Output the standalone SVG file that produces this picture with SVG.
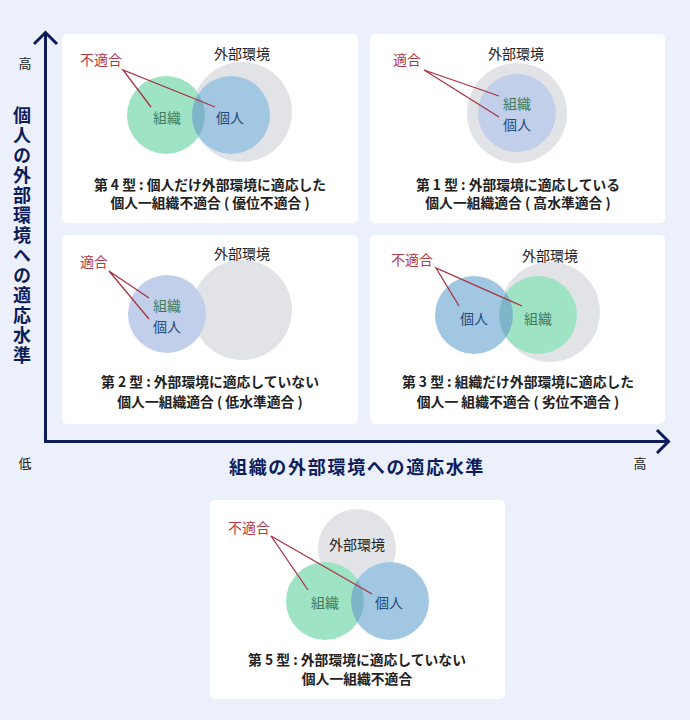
<svg xmlns="http://www.w3.org/2000/svg" width="690" height="720" viewBox="0 0 690 720">
<defs>
<style>
.bg{fill:#ebf0fa}
.panel{fill:#ffffff}
.env{fill:#e2e3e6}
.org{fill:#9fe3c5}
.ind{fill:#a2c7e2}
.both{fill:#c1cfea}
.lap{fill:#7db6c9}
.t{font-family:"Noto Sans CJK JP","Noto Sans",sans-serif;text-anchor:middle;dominant-baseline:central}
.lbl{font-size:14px;fill:#222}
.red{font-size:14px;fill:#b23a48}
.orgt{font-size:14px;fill:#3f7a5c}
.indt{font-size:14px;fill:#1f4c7c}
.cap{font-size:13.8px;font-weight:bold;fill:#222}
.ln{stroke:#a8343f;stroke-width:1.3;fill:none}
.axis{stroke:#0e1d5a;stroke-width:3;fill:none}
.title{font-size:18px;font-weight:bold;fill:#0e1d5a}
.ax{font-size:13px;fill:#222}
</style>
<clipPath id="c1"><circle cx="166" cy="115" r="39"/></clipPath>
<clipPath id="c4"><circle cx="538" cy="315" r="39"/></clipPath>
<clipPath id="c5"><circle cx="325" cy="601" r="39"/></clipPath>
</defs>
<rect class="bg" x="0" y="0" width="690" height="720"/>

<g id="axes">
<path class="axis" d="M45.5 33 V441.5 H667"/>
<path class="axis" d="M34 44 L45.5 32.5 L57 44"/>
<path class="axis" d="M657 430 L668.5 441.5 L657 453"/>
<text class="t ax" x="25" y="62">高</text>
<text class="t ax" x="25" y="462">低</text>
<text class="t ax" x="640" y="462">高</text>
<text class="t title" x="22" y="106" style="writing-mode:vertical-rl;text-anchor:start;letter-spacing:2px">個人の外部環境への適応水準</text>
<text class="t title" x="357" y="466" style="letter-spacing:1.7px">組織の外部環境への適応水準</text>
</g>

<g id="type4">
<rect class="panel" x="62" y="34" width="296" height="189" rx="5"/>
<circle class="env" cx="242" cy="112" r="50"/>
<circle class="org" cx="166" cy="115" r="39"/>
<circle class="ind" cx="231" cy="115" r="39"/>
<circle class="lap" cx="231" cy="115" r="39" clip-path="url(#c1)"/>
<text class="t lbl" x="242" y="53">外部環境</text>
<text class="t red" x="101" y="59">不適合</text>
<text class="t orgt" x="167" y="117">組織</text>
<text class="t indt" x="230" y="117">個人</text>
<text class="t cap" x="210" y="184">第 4 型 : 個人だけ外部環境に適応した</text>
<text class="t cap" x="210" y="202">個人一組織不適合 ( 優位不適合 )</text>
</g>

<g id="type1">
<rect class="panel" x="370" y="34" width="295" height="189" rx="5"/>
<circle class="env" cx="517" cy="113" r="50"/>
<circle class="both" cx="517" cy="113" r="39"/>
<text class="t lbl" x="516" y="53">外部環境</text>
<text class="t red" x="407" y="59">適合</text>
<text class="t orgt" x="517" y="103">組織</text>
<text class="t indt" x="517" y="124">個人</text>
<text class="t cap" x="518" y="184">第 1 型 : 外部環境に適応している</text>
<text class="t cap" x="518" y="202">個人一組織適合 ( 高水準適合 )</text>
</g>

<g id="type2">
<rect class="panel" x="62" y="235" width="296" height="189" rx="5"/>
<circle class="env" cx="242" cy="310" r="50"/>
<circle class="both" cx="167" cy="314" r="39"/>
<text class="t lbl" x="242" y="253">外部環境</text>
<text class="t red" x="94" y="261">適合</text>
<text class="t orgt" x="167" y="305">組織</text>
<text class="t indt" x="167" y="326">個人</text>
<text class="t cap" x="210" y="381">第 2 型 : 外部環境に適応していない</text>
<text class="t cap" x="210" y="401">個人一組織適合 ( 低水準適合 )</text>
</g>

<g id="type3">
<rect class="panel" x="370" y="235" width="295" height="189" rx="5"/>
<circle class="env" cx="550" cy="312" r="50"/>
<circle class="ind" cx="474" cy="315" r="39"/>
<circle class="org" cx="538" cy="315" r="39"/>
<circle class="lap" cx="474" cy="315" r="39" clip-path="url(#c4)"/>
<text class="t lbl" x="550" y="255">外部環境</text>
<text class="t red" x="412" y="259">不適合</text>
<text class="t indt" x="474" y="318">個人</text>
<text class="t orgt" x="538" y="318">組織</text>
<text class="t cap" x="518" y="381">第 3 型 : 組織だけ外部環境に適応した</text>
<text class="t cap" x="518" y="401">個人一 組織不適合 ( 劣位不適合 )</text>
</g>

<g id="type5">
<rect class="panel" x="210" y="500" width="295" height="199" rx="5"/>
<circle class="env" cx="357" cy="548" r="39"/>
<circle class="org" cx="325" cy="601" r="39"/>
<circle class="ind" cx="390" cy="601" r="39"/>
<circle class="lap" cx="390" cy="601" r="39" clip-path="url(#c5)"/>
<text class="t lbl" x="357" y="544">外部環境</text>
<text class="t red" x="249" y="527">不適合</text>
<text class="t orgt" x="325" y="602">組織</text>
<text class="t indt" x="389" y="602">個人</text>
<text class="t cap" x="357" y="659">第 5 型 : 外部環境に適応していない</text>
<text class="t cap" x="357" y="678">個人一組織不適合</text>
</g>

<g id="connectors">
<path class="ln" d="M151 107 L123 70 L215 107"/>
<path class="ln" d="M499 96 L424 70 L499 117"/>
<path class="ln" d="M149 298 L109 271 L149 319"/>
<path class="ln" d="M459 306 L436 268 L522 306"/>
<path class="ln" d="M308 590 L271 536 L372 594"/>
</g>
</svg>
